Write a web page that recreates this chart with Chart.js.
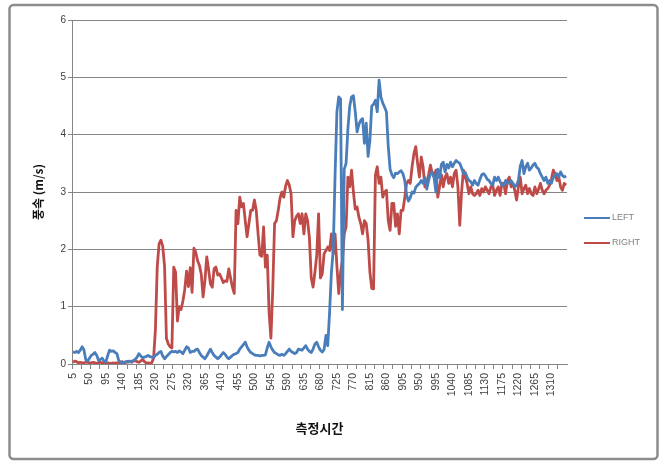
<!DOCTYPE html>
<html>
<head>
<meta charset="utf-8">
<script src="https://cdn.jsdelivr.net/npm/chart.js@4/dist/chart.umd.min.js"></script>
<style>
  html, body { margin: 0; padding: 0; background: #fff; }
  #wrap { width: 665px; height: 464px; }
</style>
</head>
<body>
<div id="wrap"><canvas id="speedChart" width="665" height="464"></canvas></div>
<script>
// time axis: one sample every 5 s, starting at 5
const TIME_START = 5;
const TIME_STEP = 5;
const LABEL_EVERY = 9;

// wind speed (m/s), left sensor
const leftSpeed = [
  0.21, 0.2, 0.22, 0.2, 0.24, 0.3, 0.25, 0.08, 0.05, 0.1,
  0.15, 0.17, 0.2, 0.15, 0.06, 0.08, 0.1, 0.05, 0.04, 0.15,
  0.24, 0.22, 0.23, 0.2, 0.18, 0.06, 0.03, 0.02, 0.03, 0.04,
  0.03, 0.05, 0.04, 0.06, 0.08, 0.12, 0.18, 0.14, 0.11, 0.12,
  0.13, 0.15, 0.13, 0.12, 0.11, 0.15, 0.17, 0.2, 0.22, 0.14,
  0.09, 0.13, 0.16, 0.2, 0.22, 0.21, 0.22, 0.2, 0.23, 0.21,
  0.18, 0.24, 0.3, 0.28, 0.2, 0.22, 0.22, 0.25, 0.26, 0.2,
  0.15, 0.12, 0.09, 0.14, 0.2, 0.26, 0.2, 0.15, 0.12, 0.09,
  0.12, 0.16, 0.2, 0.17, 0.12, 0.09, 0.12, 0.15, 0.17, 0.18,
  0.2, 0.26, 0.3, 0.34, 0.38, 0.3, 0.24, 0.2, 0.18, 0.16,
  0.15, 0.15, 0.14, 0.15, 0.15, 0.16, 0.28, 0.38, 0.3, 0.24,
  0.2, 0.18, 0.16, 0.15, 0.17, 0.15, 0.18, 0.22, 0.26, 0.22,
  0.2, 0.18, 0.2, 0.26, 0.25, 0.24, 0.28, 0.32, 0.26, 0.22,
  0.2, 0.26, 0.35, 0.38, 0.3, 0.24, 0.21, 0.25, 0.5, 0.32,
  0.9, 1.6, 2.0, 3.3, 4.4, 4.66, 4.62, 0.95, 3.4, 3.5,
  4.1, 4.5, 4.66, 4.68, 4.4, 4.05, 4.18, 4.25, 4.28, 3.85,
  4.2, 3.62, 3.9, 4.5, 4.53, 4.6, 4.4, 4.95, 4.66, 4.55,
  4.48, 4.4, 3.8, 3.4, 3.3, 3.25, 3.33, 3.32, 3.35, 3.37,
  3.32, 3.2, 2.95, 2.84, 2.9, 3.0, 2.98, 3.08, 3.12, 3.15,
  3.2, 3.15, 3.25, 3.05, 3.2, 3.32, 3.35, 3.25, 3.0, 3.4,
  3.25, 3.48, 3.52, 3.35, 3.48, 3.42, 3.52, 3.44, 3.5, 3.55,
  3.52, 3.5, 3.42, 3.32, 3.34, 3.26, 3.2, 3.18, 3.12, 3.2,
  3.15, 3.12, 3.22, 3.3, 3.32, 3.28, 3.22, 3.2, 3.15, 3.12,
  3.26, 3.2, 3.26, 3.18, 3.12, 3.12, 3.2, 3.15, 3.16, 3.2,
  3.15, 3.09, 3.12, 3.2, 3.45, 3.55, 3.32, 3.44, 3.5, 3.38,
  3.42, 3.47, 3.5, 3.43, 3.4, 3.32, 3.26, 3.2, 3.26, 3.15,
  3.2, 3.15, 3.25, 3.3, 3.32, 3.26, 3.35, 3.29, 3.26, 3.28
];

// wind speed (m/s), right sensor
const rightSpeed = [
  0.03, 0.05, 0.04, 0.02, 0.03, 0.02, 0.02, 0.03, 0.03, 0.02,
  0.02, 0.03, 0.02, 0.01, 0.02, 0.03, 0.02, 0.01, 0.01, 0.02,
  0.01, 0.01, 0.02, 0.01, 0.02, 0.01, 0.03, 0.04, 0.02, 0.03,
  0.05, 0.04, 0.03, 0.05, 0.06, 0.04, 0.03, 0.05, 0.08, 0.04,
  0.02, 0.02, 0.01, 0.02, 0.1, 0.6, 1.7, 2.1, 2.16, 2.05,
  1.7, 0.45, 0.35, 0.3, 0.28, 1.69, 1.6, 0.75, 1.0, 0.95,
  1.1, 1.3, 1.62, 1.35, 1.68, 1.25, 2.02, 1.95, 1.8, 1.72,
  1.57, 1.17, 1.45, 1.87, 1.65, 1.4, 1.34, 1.66, 1.69, 1.55,
  1.57, 1.5, 1.42, 1.45, 1.44, 1.66, 1.5, 1.34, 1.23, 2.68,
  2.45, 2.91, 2.74, 2.8, 2.5, 2.22, 2.45, 2.68, 2.68, 2.86,
  2.68, 2.27, 1.9, 1.88, 2.39, 1.69, 1.9, 0.9, 0.45, 1.3,
  2.45, 2.5, 2.68, 2.9, 3.0, 2.91, 3.1, 3.2, 3.12, 2.97,
  2.22, 2.5, 2.58, 2.62, 2.45, 2.62, 2.27, 2.62, 2.5, 2.2,
  1.5, 1.34, 1.6, 1.9, 2.62, 1.5, 1.57, 1.92, 1.98, 2.04,
  1.98, 2.27, 1.92, 2.27, 1.7, 1.23, 1.6, 1.81, 2.27, 2.39,
  3.26, 3.09, 3.38, 3.0, 2.7, 2.74, 2.56, 2.45, 2.27, 2.5,
  2.45, 2.16, 1.6, 1.32, 1.31, 3.3, 3.44, 3.15, 3.26, 2.91,
  3.0, 3.03, 2.5, 2.33, 2.8, 2.8, 2.4, 2.62, 2.27, 2.68,
  2.68, 2.9, 3.15, 3.2, 3.15, 3.44, 3.67, 3.79, 3.5, 3.26,
  3.61, 3.44, 3.09, 3.15, 3.3, 3.47, 3.32, 3.26, 3.38, 2.91,
  3.09, 3.3, 3.09, 3.26, 3.32, 3.15, 3.26, 3.09, 3.32, 3.38,
  3.09, 2.42, 3.0, 3.38, 3.26, 3.15, 2.97, 3.09, 2.97, 2.94,
  2.97, 3.03, 2.94, 3.06, 3.0, 3.09, 3.03, 2.97, 3.09, 3.12,
  2.94, 3.03, 3.09, 2.94, 3.15, 3.15, 2.97, 3.2, 3.26, 3.09,
  3.15, 3.03, 2.86, 3.09, 3.26, 2.97, 3.06, 3.12, 2.97, 3.06,
  2.97, 2.94, 3.09, 2.97, 3.05, 3.15, 3.03, 2.97, 3.03, 3.06,
  3.12, 3.23, 3.38, 3.32, 3.2, 3.26, 3.09, 3.03, 3.15, 3.12
];

const seriesNames = ['LEFT', 'RIGHT'];
const seriesColors = ['#4a7ebb', '#be4b48'];
const yMin = 0, yMax = 6, yStep = 1;

const times = leftSpeed.map((_, i) => TIME_START + TIME_STEP * i);

// white background, outer frame and the little legend on the right
const frameAndLegend = {
  id: 'frameAndLegend',
  beforeDraw(chart) {
    const ctx = chart.ctx;
    ctx.save();
    ctx.fillStyle = '#fff';
    ctx.fillRect(0, 0, chart.width, chart.height);
    ctx.restore();
  },
  afterDraw(chart) {
    const ctx = chart.ctx;
    ctx.save();
    ctx.strokeStyle = '#8c8c8c';
    ctx.lineWidth = 2.5;
    ctx.beginPath();
    ctx.roundRect(9.5, 5, 648, 454, 4);
    ctx.stroke();

    ctx.font = '9px "Liberation Sans", Arial, sans-serif';
    ctx.textBaseline = 'middle';
    chart.data.datasets.forEach((ds, i) => {
      const y = 218 + i * 25;
      ctx.strokeStyle = ds.borderColor;
      ctx.lineWidth = 2;
      ctx.beginPath();
      ctx.moveTo(584, y);
      ctx.lineTo(610, y);
      ctx.stroke();
      ctx.fillStyle = '#808080';
      ctx.fillText(ds.label, 612, y);
    });
    ctx.restore();
  }
};

new Chart(document.getElementById('speedChart').getContext('2d'), {
  type: 'line',
  data: {
    labels: times,
    datasets: [
      { label: seriesNames[0], data: leftSpeed, borderColor: seriesColors[0] },
      { label: seriesNames[1], data: rightSpeed, borderColor: seriesColors[1] }
    ]
  },
  options: {
    responsive: false,
    animation: false,
    layout: { padding: { left: 10, right: 98, top: 20, bottom: 10 } },
    elements: {
      point: { radius: 0 },
      line: { borderWidth: 2.8, tension: 0, borderJoinStyle: 'round', fill: false }
    },
    plugins: { legend: { display: false }, tooltip: { enabled: false } },
    scales: {
      x: {
        type: 'category',
        offset: true,
        grid: {
          offset: true,
          drawOnChartArea: false,
          tickLength: 5,
          color: c => (c.index !== undefined && c.index % 5 === 0 ? '#868686' : 'rgba(0,0,0,0)')
        },
        border: { color: '#868686', width: 1 },
        ticks: {
          autoSkip: false,
          minRotation: 90,
          maxRotation: 90,
          padding: 4,
          color: '#404040',
          font: { family: '"Liberation Sans", Arial, sans-serif', size: 10.5 },
          callback: (v, i) => (i % LABEL_EVERY === 0 ? String(times[i]) : '')
        },
        title: {
          display: true,
          text: '측정시간',
          color: '#111',
          font: { family: '"Noto Sans CJK KR", sans-serif', size: 13, weight: 'bold' },
          padding: { top: 0, bottom: 18 }
        },
        afterFit: s => { s.height = 90; }
      },
      y: {
        min: yMin,
        max: yMax,
        grid: { color: '#868686', tickLength: 4 },
        border: { color: '#868686', width: 1 },
        ticks: {
          stepSize: yStep,
          padding: 2,
          color: '#404040',
          font: { family: '"Liberation Sans", Arial, sans-serif', size: 10 }
        },
        title: {
          display: true,
          text: '풍속 (m/s)',
          color: '#111',
          font: { family: '"Noto Sans CJK KR", sans-serif', size: 12, weight: 'bold' },
          padding: { top: 21, bottom: 0 }
        },
        afterFit: s => { s.width = 62; }
      }
    }
  },
  plugins: [frameAndLegend]
});
</script>
</body>
</html>
